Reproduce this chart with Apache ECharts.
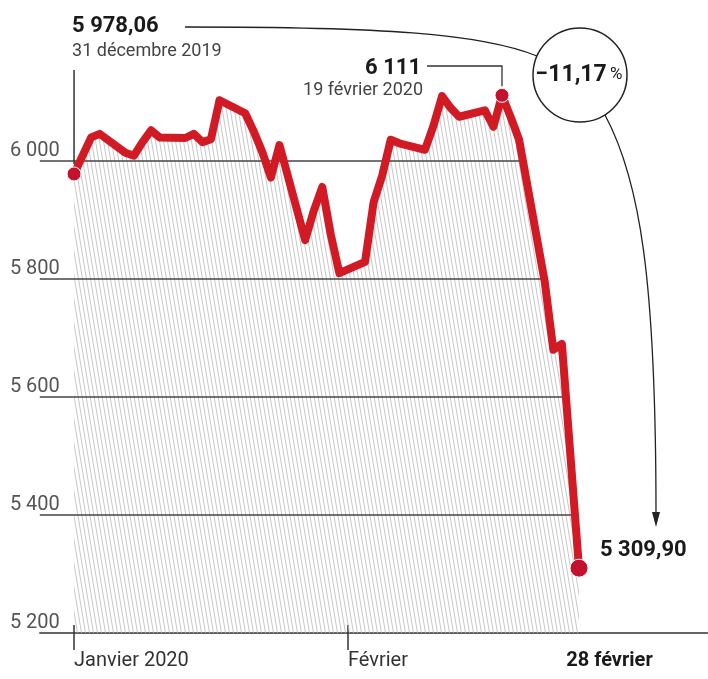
<!DOCTYPE html>
<html><head><meta charset="utf-8">
<script src="https://cdn.jsdelivr.net/npm/echarts@6/dist/echarts.min.js"></script>
<style>html,body{margin:0;padding:0;background:#fff}#c{width:708px;height:679px}</style>
</head><body><div id="c"></div>
<script>
// ---- data ----
const dates = ['2019-12-31','2020-01-02','2020-01-03','2020-01-06','2020-01-07','2020-01-08','2020-01-09','2020-01-10',
  '2020-01-13','2020-01-14','2020-01-15','2020-01-16','2020-01-17','2020-01-20','2020-01-21','2020-01-22','2020-01-23','2020-01-24',
  '2020-01-27','2020-01-28','2020-01-29','2020-01-30','2020-01-31','2020-02-03','2020-02-04','2020-02-05','2020-02-06','2020-02-07',
  '2020-02-10','2020-02-11','2020-02-12','2020-02-13','2020-02-14','2020-02-17','2020-02-18','2020-02-19','2020-02-20','2020-02-21',
  '2020-02-24','2020-02-25','2020-02-26','2020-02-27','2020-02-28'];
const values = [5978.06,6040,6046,6014,6009,6032,6052,6040,
  6039,6046,6032,6037,6103,6081,6050,6015,5972,6027,
  5866,5915,5956,5875,5810,5829,5930,5975,6036,6030,
  6019,6060,6110,6090,6075,6086,6058,6111.24,6075,6036,
  5795,5680,5690,5500,5309.90];
const yTicks = [5200,5400,5600,5800,6000];
const xTickDates = ['2019-12-31','2020-02-01'];
const xTickLabels = ['Janvier 2020','Février'];
const xEndDate = '2020-02-28';
const xEndLabel = '28 février';
const startDateLabel = '31 décembre 2019';
const peakDateLabel = '19 février 2020';
const changeLabel = '−11,17';

// ---- helpers ----
const FONT = 'Roboto, "Noto Sans", sans-serif';
const DAY = 86400000;
const t0 = Date.parse(dates[0]);
const dayOf = d => Math.round((Date.parse(d) - t0) / DAY);
const pts = dates.map((d, i) => [dayOf(d), values[i]]);
const xTickDays = xTickDates.map(dayOf);
const xEndDay = dayOf(xEndDate);
const last = values.length - 1;
let peakIdx = 0; values.forEach((v, i) => { if (v > values[peakIdx]) peakIdx = i; });
function fr(v, dec) {
  const s = v.toFixed(dec).split('.');
  const int = s[0].replace(/\B(?=(\d{3})+(?!\d))/g, ' ');
  return dec ? int + ',' + s[1] : int;
}
const X_MIN = -4, X_MAX = 74;

// gridlines end where the curve last falls through them
const gridSeries = yTicks.filter(L => L > yTicks[0]).map(L => {
  let xc = pts[last][0];
  for (let i = 0; i < last; i++) {
    if (values[i] >= L && values[i + 1] < L) {
      const f = (values[i] - L) / (values[i] - values[i + 1]);
      xc = pts[i][0] + f * (pts[i + 1][0] - pts[i][0]);
    }
  }
  return { type: 'line', data: [[X_MIN, L], [xc, L]], showSymbol: false, silent: true,
    lineStyle: { color: '#444', width: 1.5 }, z: 2, animation: false };
});

// hatch pattern
const pc = document.createElement('canvas');
pc.width = 4; pc.height = 24;
const cx = pc.getContext('2d');
cx.strokeStyle = '#b8b8b8'; cx.lineWidth = 0.8;
for (let k = -1; k <= 1; k++) { cx.beginPath(); cx.moveTo(k * 4, 0); cx.lineTo(k * 4 + 4, 24); cx.stroke(); }

const chart = echarts.init(document.getElementById('c'), null, { renderer: 'canvas' });
const labelMap = {}; xTickDays.forEach((d, i) => labelMap[d] = xTickLabels[i]);

chart.setOption({
  animation: false,
  grid: { left: 39.8, right: 0.6, top: 43, bottom: 46 },
  xAxis: [{
    type: 'value', min: X_MIN, max: X_MAX, position: 'bottom',
    axisLine: { show: true, lineStyle: { color: '#333', width: 1.5 } },
    axisTick: { show: true, customValues: xTickDays, length: 17, lineStyle: { color: '#333', width: 1.5 } },
    axisLabel: { customValues: xTickDays, formatter: v => labelMap[v] || '', align: 'left', margin: 18,
      fontSize: 20, color: '#333', fontFamily: FONT },
    splitLine: { show: false }
  }, {
    type: 'value', min: X_MIN, max: X_MAX, position: 'bottom',
    axisLine: { show: false },
    axisTick: { show: true, customValues: xTickDays, inside: true, length: 8, lineStyle: { color: '#333', width: 1.5 } },
    axisLabel: { customValues: [xEndDay], formatter: () => xEndLabel, align: 'center', margin: 18,
      padding: [0, 0, 0, 61], fontSize: 20, fontWeight: 'bold', color: '#1a1a1a', fontFamily: FONT },
    splitLine: { show: false }
  }],
  yAxis: {
    type: 'value', min: 5200, max: 6200, interval: 200,
    axisLine: { show: false }, axisTick: { show: false }, splitLine: { show: false },
    axisLabel: { customValues: yTicks, inside: true, align: 'right', verticalAlign: 'bottom', margin: 20,
      formatter: v => fr(v, 0), fontSize: 20, color: '#555', fontFamily: FONT }
  },
  series: [
    { type: 'line', data: pts, showSymbol: false, silent: true, lineStyle: { width: 0 },
      areaStyle: { color: { image: pc, repeat: 'repeat' }, opacity: 1, origin: 'start' }, z: 1 },
    ...gridSeries,
    { type: 'line', data: pts, showSymbol: false, silent: true,
      lineStyle: { color: '#d11a24', width: 8, join: 'round', cap: 'round' }, z: 3 },
    { type: 'scatter', data: [pts[0], pts[peakIdx], pts[last]], silent: true,
      symbolSize: (v, p) => p.dataIndex === 2 ? 18 : 14,
      itemStyle: { color: '#c4122e', borderColor: '#fff', borderWidth: 1, opacity: 1 }, z: 4 }
  ]
});

// ---- annotations anchored to data points ----
const P = i => chart.convertToPixel({ gridIndex: 0 }, pts[i]);
const s = P(0), pk = P(peakIdx), en = P(last);
const ink = '#222';
const circ = { x: 580, y: 75, r: 47 };
chart.setOption({
  graphic: [
    { type: 'line', shape: { x1: s[0], y1: 70, x2: s[0], y2: s[1] - 10 }, style: { stroke: '#333', lineWidth: 1.5 }, z: 10 },
    { type: 'text', x: s[0] - 2, y: 26, style: { text: fr(values[0], 2), font: 'bold 22px ' + FONT, fill: '#1a1a1a', align: 'left', verticalAlign: 'middle' }, z: 10 },
    { type: 'text', x: s[0] - 2, y: 51, style: { text: startDateLabel, font: '18px ' + FONT, fill: '#444', align: 'left', verticalAlign: 'middle' }, z: 10 },
    { type: 'bezierCurve', shape: { x1: 185, y1: 27, cpx1: 380, cpy1: 27, cpx2: 480, cpy2: 33, x2: 537, y2: 56 }, style: { stroke: ink, lineWidth: 1.3, fill: null }, z: 10 },
    { type: 'circle', shape: { cx: circ.x, cy: circ.y, r: circ.r }, style: { stroke: ink, lineWidth: 1.5, fill: '#fff' }, z: 10 },
    { type: 'text', x: circ.x - 1, y: circ.y, style: { text: '{a|' + changeLabel + '} {b|%}', align: 'center', verticalAlign: 'middle',
        rich: { a: { font: 'bold 23px ' + FONT, fill: '#1a1a1a' }, b: { font: '17px ' + FONT, fill: '#1a1a1a' } } }, z: 11 },
    { type: 'bezierCurve', shape: { x1: 605, y1: 115, cpx1: 640, cpy1: 180, cpx2: 656, cpy2: 280, x2: 656, y2: 514 }, style: { stroke: ink, lineWidth: 1.3, fill: null }, z: 10 },
    { type: 'polygon', shape: { points: [[656, 527], [652, 512], [660, 512]] }, style: { fill: ink }, z: 10 },
    { type: 'polyline', shape: { points: [[427, 66], [pk[0], 66], [pk[0], pk[1] - 9]] }, style: { stroke: '#333', lineWidth: 1.3, fill: null }, z: 10 },
    { type: 'text', x: 421, y: 68, style: { text: fr(values[peakIdx], 0), font: 'bold 22px ' + FONT, fill: '#1a1a1a', align: 'right', verticalAlign: 'middle' }, z: 10 },
    { type: 'text', x: 423, y: 90, style: { text: peakDateLabel, font: '18px ' + FONT, fill: '#444', align: 'right', verticalAlign: 'middle' }, z: 10 },
    { type: 'text', x: en[0] + 21, y: en[1] - 18, style: { text: fr(values[last], 2), font: 'bold 22px ' + FONT, fill: '#1a1a1a', align: 'left', verticalAlign: 'middle' }, z: 10 }
  ]
});
</script></body></html>
